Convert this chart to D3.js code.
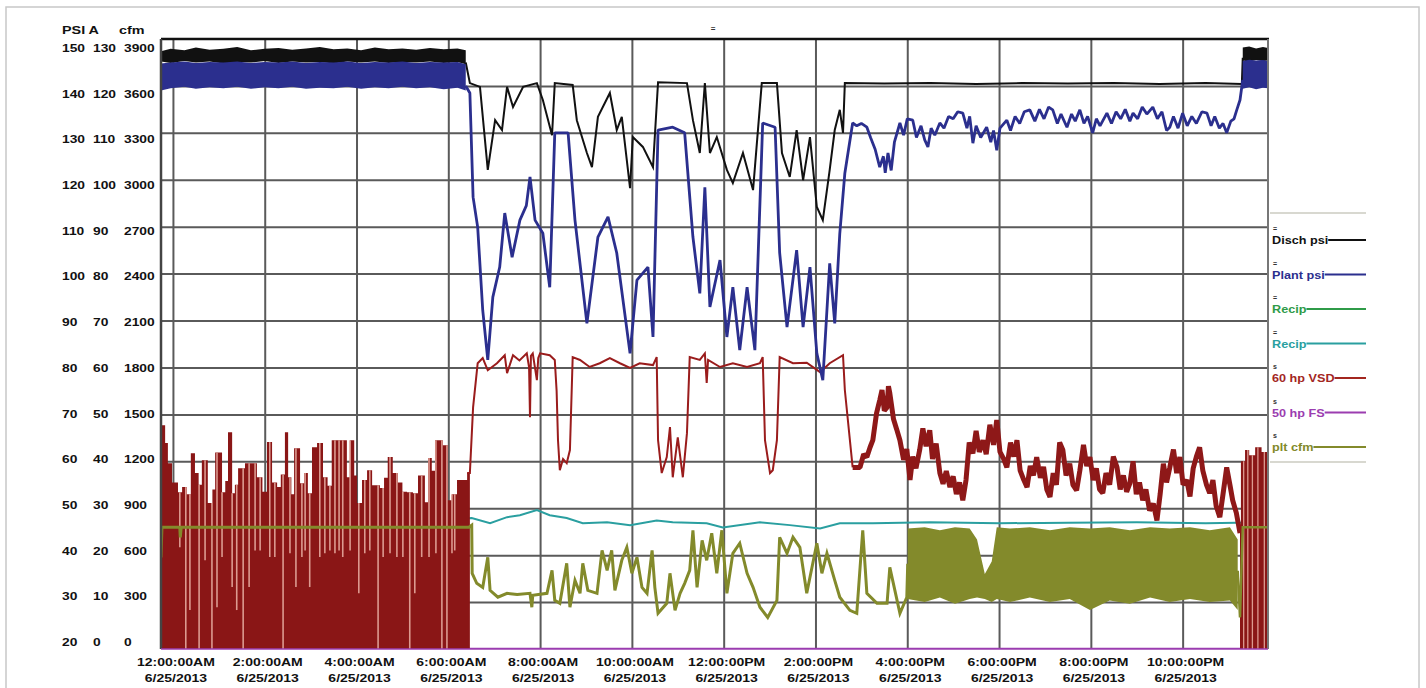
<!DOCTYPE html>
<html>
<head>
<meta charset="utf-8">
<script src="https://cdn.jsdelivr.net/npm/d3@7"></script>
<style>
body { margin: 0; background: #fff; }
text { font-family: "Liberation Sans", Arial, sans-serif; font-weight: bold; }
</style>
</head>
<body>
<svg id="chart" width="1426" height="688"></svg>
<script>
// ---- axis ticks / labels ----
let hourTicks = [0, 2, 4, 6, 8, 10, 12, 14, 16, 18, 20, 22];
let timeLabels = ["12:00:00AM","2:00:00AM","4:00:00AM","6:00:00AM","8:00:00AM","10:00:00AM",
  "12:00:00PM","2:00:00PM","4:00:00PM","6:00:00PM","8:00:00PM","10:00:00PM"];
let dateLabel = "6/25/2013";
let psiTicks = [150,140,130,120,110,100,90,80,70,60,50,40,30,20];
let ampTicks = [130,120,110,100,90,80,70,60,50,40,30,20,10,0];
let cfmTicks = [3900,3600,3300,3000,2700,2400,2100,1800,1500,1200,900,600,300,0];

// ---- legend ----
let seriesNames = ["Disch psi","Plant psi","Recip","Recip","60 hp VSD","50 hp FS","plt cfm"];
let seriesColors = ["#111111","#2b2f8e","#2f9b48","#2a9fa0","#a3261f","#9b3db0","#838a2b"];
let seriesMarks = ["=","=","=","=","s","s","s"];

// ---- Disch psi (psi) ----
let dischBandNight = [[-0.26,145.2,147.4],[-0.05,144.9,147.9],[0.25,145.3,147.6],[0.5,145.0,148.2],[0.8,145.2,147.7],
  [1.1,144.8,147.9],[1.4,145.1,148.3],[1.7,145.0,147.6],[2.0,145.3,147.9],[2.3,144.9,148.1],[2.6,145.2,147.7],
  [2.9,145.0,148.0],[3.2,145.1,148.3],[3.5,144.8,147.8],[3.8,145.2,148.0],[4.1,145.0,147.6],[4.4,145.2,148.2],
  [4.7,144.9,147.8],[5.0,145.1,148.0],[5.3,145.0,147.7],[5.6,145.2,148.1],[5.9,144.9,147.8],[6.2,145.1,148.0],[6.38,144.6,147.6]];
let dischBandLate = [[23.31,145.4,148.2],[23.45,145.2,148.4],[23.6,145.5,148.0],[23.75,145.3,148.3],[23.86,145.4,148.1]];
let dischLine = [[6.38,145.0],[6.47,140.6],[6.69,139.8],[6.86,122.1],[7.02,132.7],[7.17,130.6],[7.28,139.8],[7.41,135.5],
  [7.63,139.8],[7.93,140.6],[8.06,137.0],[8.26,129.5],[8.32,140.6],[8.71,140.2],[8.80,132.7],[9.02,125.7],[9.13,122.7],
  [9.26,133.4],[9.52,138.5],[9.67,130.6],[9.78,133.4],[9.96,118.2],[10.02,129.1],[10.24,127.0],[10.46,122.7],[10.57,140.8],
  [11.20,140.6],[11.33,132.7],[11.48,125.7],[11.59,140.6],[11.70,125.7],[11.85,129.1],[12.07,122.1],[12.20,119.3],
  [12.42,125.7],[12.64,117.8],[12.83,140.6],[13.16,140.6],[13.27,125.7],[13.44,120.6],[13.59,130.6],[13.73,119.9],
  [13.88,129.1],[14.03,114.2],[14.16,111.4],[14.31,122.1],[14.42,130.6],[14.53,134.9],[14.60,130.0],[14.64,140.6],
  [15.5,140.5],[16.5,140.6],[17.5,140.4],[18.5,140.6],[19.5,140.5],[20.5,140.6],[21.5,140.4],[22.5,140.6],[23.29,140.4],[23.31,146.0]];

// ---- Plant psi (psi) ----
let plantBandNight = [[-0.26,139.0,144.8],[-0.05,139.5,145.0],[0.25,139.8,145.2],[0.5,139.4,144.9],[0.8,139.7,145.1],
  [1.1,139.5,145.0],[1.4,139.8,145.2],[1.7,139.4,144.9],[2.0,139.7,145.1],[2.3,139.5,145.0],[2.6,139.8,145.2],
  [2.9,139.4,144.9],[3.2,139.6,145.1],[3.5,139.5,145.0],[3.8,139.8,145.2],[4.1,139.4,144.9],[4.4,139.7,145.1],
  [4.7,139.5,145.0],[5.0,139.8,145.2],[5.3,139.5,144.9],[5.6,139.7,145.1],[5.9,139.3,145.0],[6.2,139.6,145.1],[6.38,139.0,144.6]];
let plantBandLate = [[23.31,139.4,145.3],[23.45,139.7,145.6],[23.6,139.3,145.4],[23.75,139.6,145.5],[23.86,139.5,145.3]];
let plantLine = [[6.38,140.0],[6.47,138.5],[6.54,116.3],[6.64,109.9],[6.75,92.2],[6.86,81.6],[6.97,95.0],[7.12,101.4],
  [7.23,112.9],[7.39,103.5],[7.56,111.4],[7.70,114.5],[7.78,120.6],[7.89,111.4],[8.06,108.6],[8.21,97.1],[8.32,130.0],
  [8.61,130.0],[8.76,111.4],[9.02,89.4],[9.26,107.8],[9.48,112.1],[9.67,104.4],[9.96,83.0],[10.11,98.6],[10.35,101.4],
  [10.46,86.5],[10.57,130.6],[10.89,131.2],[11.15,130.0],[11.33,107.8],[11.48,95.8],[11.59,118.4],[11.70,92.9],
  [11.92,102.9],[12.07,86.5],[12.20,97.1],[12.35,83.7],[12.51,97.1],[12.68,83.7],[12.85,132.1],[13.12,131.2],
  [13.22,104.4],[13.38,88.6],[13.59,105.0],[13.73,88.6],[13.88,101.4],[14.03,83.0],[14.16,77.3],[14.31,102.2],
  [14.42,89.4],[14.53,108.6],[14.64,121.4],[14.81,132.1],[14.9,131.5],[15.0,132.0],[15.12,131.2],[15.2,129.0],
  [15.3,126.5],[15.40,122.7],[15.48,125.0],[15.52,121.5],[15.58,125.7],[15.65,122.0],[15.72,128.0],[15.84,132.1],
  [15.92,129.5],[16.0,133.0],[16.12,132.7],[16.2,129.0],[16.3,131.5],[16.38,128.5],[16.45,127.0],[16.52,131.0],
  [16.6,129.5],[16.71,132.1],[16.8,131.0],[16.9,133.5],[17.0,133.0],[17.1,134.5],[17.21,134.2],[17.3,131.0],
  [17.36,133.5],[17.43,127.8],[17.5,131.5],[17.6,129.0],[17.73,131.2],[17.82,128.0],[17.88,130.5],[17.95,126.3],
  [18.02,131.0],[18.17,132.7],[18.25,130.5],[18.35,133.5],[18.45,132.0],[18.55,134.5],[18.67,134.9],[18.78,132.5],
  [18.88,135.0],[18.98,133.0],[19.08,135.5],[19.17,134.9],[19.27,132.0],[19.35,134.0],[19.48,131.2],[19.58,134.0],
  [19.66,132.5],[19.76,134.9],[19.85,132.0],[19.93,133.5],[20.04,130.0],[20.12,133.0],[20.2,131.5],[20.35,134.2],
  [20.45,132.0],[20.55,134.5],[20.65,133.0],[20.75,135.0],[20.85,132.5],[20.92,134.2],[21.02,133.0],[21.12,135.5],
  [21.22,134.0],[21.35,135.5],[21.45,133.0],[21.55,134.5],[21.65,130.5],[21.72,131.2],[21.8,133.5],[21.9,131.0],
  [22.0,134.2],[22.1,131.5],[22.2,133.5],[22.3,132.0],[22.42,134.5],[22.53,134.2],[22.62,131.5],[22.7,133.5],
  [22.8,131.0],[22.88,132.0],[22.96,130.0],[23.05,132.5],[23.12,133.0],[23.18,134.9],[23.25,137.0],[23.31,141.3]];

// ---- Recip (teal, amps) ----
let recipTeal = [[-0.26,27.6],[1.0,27.8],[2.0,27.6],[3.0,27.9],[4.0,27.7],[5.0,27.8],[6.0,27.6],[6.51,27.9],[6.91,26.8],
  [7.28,28.1],[7.56,28.5],[7.93,29.6],[8.21,28.5],[8.58,27.9],[8.93,26.8],[9.46,27.0],[9.96,26.4],[10.54,27.4],
  [10.89,27.0],[11.63,26.8],[11.98,25.9],[12.79,27.0],[13.44,26.4],[14.10,25.7],[14.53,26.8],[15.25,26.8],[16.5,27.0],
  [18.0,26.8],[19.5,26.9],[21.0,27.0],[22.5,26.8],[23.86,27.0]];
// ---- Recip (green) and 50 hp FS, both off ----
let recipGreen = [[-0.26,0],[23.86,0]];
let fs50 = [[-0.26,0],[23.86,0]];

// ---- 60 hp VSD (amps) ----
let vsdNight = [[-0.26,47.7],[-0.2,47.7],[-0.17,43.9],[-0.11,39.6],[-0.02,35.5],[0.11,33.4],[0.20,34.5],[0.30,33.0],
  [0.39,41.7],[0.48,37.5],[0.56,35.0],[0.63,40.2],[0.76,31.1],[0.86,34.0],[0.92,41.9],[1.07,33.4],[1.14,35.8],
  [1.20,46.2],[1.29,33.2],[1.35,35.0],[1.42,38.5],[1.57,39.6],[1.72,39.6],[1.83,36.6],[1.95,33.5],[2.05,44.1],
  [2.16,35.5],[2.27,34.5],[2.35,37.2],[2.44,46.2],[2.51,36.6],[2.58,33.0],[2.64,42.8],[2.77,35.3],[2.86,37.5],
  [2.94,33.2],[3.03,43.0],[3.14,43.9],[3.27,36.6],[3.37,34.8],[3.46,44.5],[3.79,36.6],[3.86,44.5],[3.95,37.0],
  [4.01,31.1],[4.12,36.0],[4.23,38.1],[4.34,34.9],[4.51,34.3],[4.60,36.5],[4.68,40.9],[4.79,37.5],[4.90,35.5],
  [5.00,33.5],[5.10,33.4],[5.23,33.2],[5.34,37.0],[5.49,31.3],[5.56,40.7],[5.64,38.0],[5.71,44.5],[5.88,43.4],
  [5.99,31.7],[6.08,33.0],[6.19,36.0],[6.41,37.5],[6.47,37.5]];
let vsdNightGaps = [[0.15,21.7],[0.28,0],[0.37,8.3],[0.57,0],[0.70,18.9],[0.85,0],[0.96,8.9],[1.07,19.6],[1.29,13.2],
  [1.39,8.3],[1.53,0],[1.66,13.2],[1.79,21.0],[1.90,21.0],[2.11,19.6],[2.22,19.6],[2.40,0],[2.55,20.4],[2.68,13.2],
  [2.81,19.6],[2.88,21.0],[2.98,13.2],[3.20,19.6],[3.31,20.4],[3.42,21.0],[3.53,20.4],[3.62,21.0],[3.70,19.6],
  [3.86,21.0],[4.05,11.9],[4.18,20.4],[4.29,21.0],[4.47,0],[4.58,19.6],[4.73,20.4],[4.88,19.6],[5.01,19.6],[5.16,0],
  [5.27,11.9],[5.42,19.6],[5.58,19.6],[5.73,20.4],[5.86,0],[5.97,0],[6.08,20.4],[6.14,21.0]];
let vsdDay = [[6.41,37.5],[6.47,37.5],[6.54,51.5],[6.64,60.9],[6.75,62.0],[6.86,59.4],[7.06,60.9],[7.23,62.6],[7.28,58.8],
  [7.41,62.6],[7.55,61.5],[7.71,63.0],[7.76,60.0],[7.78,49.4],[7.80,62.5],[7.84,63.0],[7.93,57.3],[7.96,62.0],[8.00,63.0],
  [8.21,62.6],[8.32,61.6],[8.36,55.0],[8.39,44.5],[8.43,38.1],[8.50,40.5],[8.58,39.6],[8.65,42.4],[8.71,62.2],[8.87,61.6],
  [9.08,60.1],[9.30,60.9],[9.52,62.0],[9.74,60.9],[9.96,59.9],[10.17,60.9],[10.46,60.5],[10.54,62.2],[10.57,44.5],
  [10.65,37.5],[10.76,40.9],[10.83,47.3],[10.89,36.6],[11.0,45.1],[11.11,36.6],[11.20,46.0],[11.26,62.2],[11.48,61.6],
  [11.59,63.0],[11.63,56.7],[11.66,61.6],[11.92,60.1],[12.20,60.9],[12.51,60.1],[12.79,60.9],[12.85,62.2],[12.90,44.5],
  [13.01,37.5],[13.07,38.1],[13.16,44.5],[13.22,62.2],[13.51,60.9],[13.81,61.0],[14.10,59.0],[14.31,60.9],[14.60,62.6],
  [14.64,55.2],[14.75,44.5],[14.81,38.7]];
let vsdEvening = [[14.81,38.7],[14.97,38.7],[15.05,41.5],[15.12,40.9],[15.19,43.0],[15.25,44.5],[15.33,50.2],[15.40,53.0],
  [15.45,55.2],[15.50,50.8],[15.56,51.5],[15.59,56.0],[15.62,54.5],[15.70,49.0],[15.77,46.8],[15.84,44.5],[15.92,40.3],
  [15.99,42.6],[16.06,36.0],[16.12,41.0],[16.19,38.5],[16.27,42.4],[16.34,47.0],[16.41,43.2],[16.49,46.6],[16.55,40.5],
  [16.63,43.8],[16.71,37.5],[16.78,35.2],[16.85,37.9],[16.93,34.5],[17.00,36.8],[17.07,33.0],[17.14,35.5],[17.21,31.7],
  [17.28,36.0],[17.35,44.0],[17.43,41.7],[17.50,46.5],[17.57,42.0],[17.65,44.5],[17.72,41.5],[17.80,47.8],[17.88,43.5],
  [17.95,48.8],[18.02,42.0],[18.10,40.5],[18.17,38.7],[18.25,44.0],[18.32,41.0],[18.39,44.5],[18.46,38.0],[18.54,36.0],
  [18.61,34.5],[18.68,39.0],[18.75,37.0],[18.82,40.9],[18.90,36.5],[18.97,38.8],[19.04,34.0],[19.11,32.4],[19.18,37.5],
  [19.25,35.0],[19.32,44.0],[19.39,42.4],[19.46,37.0],[19.54,39.5],[19.61,35.0],[19.69,33.8],[19.76,38.0],[19.84,43.5],
  [19.91,39.0],[19.98,40.9],[20.05,36.0],[20.12,38.5],[20.19,34.0],[20.26,33.2],[20.33,37.5],[20.41,35.0],[20.49,41.0],
  [20.57,38.7],[20.64,34.0],[20.71,37.0],[20.78,33.5],[20.85,35.3],[20.92,40.0],[20.99,33.0],[21.06,35.5],[21.13,31.7],
  [21.20,34.0],[21.28,29.5],[21.36,31.0],[21.44,27.4],[21.51,33.0],[21.58,39.5],[21.65,35.5],[21.72,38.7],[21.80,42.5],
  [21.87,37.5],[21.94,40.9],[22.01,35.0],[22.09,36.0],[22.16,32.5],[22.23,38.5],[22.30,41.0],[22.37,43.0],[22.44,38.0],
  [22.52,35.0],[22.59,33.2],[22.66,36.0],[22.73,30.5],[22.81,28.1],[22.88,33.0],[22.96,38.7],[23.03,35.0],[23.09,31.7],
  [23.17,29.0],[23.25,24.7]];
let vsdLate = [[23.25,24.7],[23.27,40.0],[23.36,42.4],[23.45,41.3],[23.58,43.0],[23.72,42.0],[23.86,41.9]];
let vsdLateGaps = [[23.33,0],[23.42,0],[23.52,0],[23.64,0],[23.78,0]];

// ---- plt cfm (cfm) ----
let cfmLine = [[-0.26,586],[-0.24,778],[0.15,778],[0.16,714],[0.18,778],[6.45,778],[6.51,791],[6.52,484],[6.62,420],
  [6.75,394],[6.86,586],[6.91,375],[7.08,331],[7.28,356],[7.5,348],[7.78,356],[7.82,267],[7.84,343],[8.15,356],
  [8.26,503],[8.32,311],[8.43,292],[8.58,548],[8.65,267],[8.76,439],[8.87,356],[8.93,548],[9.04,375],[9.24,356],
  [9.35,631],[9.46,503],[9.56,631],[9.63,375],[9.78,567],[9.89,650],[10.0,484],[10.11,586],[10.22,394],[10.33,356],
  [10.44,631],[10.50,394],[10.57,228],[10.76,292],[10.83,484],[10.94,247],[11.05,356],[11.15,420],[11.26,503],
  [11.33,759],[11.42,394],[11.53,695],[11.63,567],[11.74,740],[11.85,484],[11.96,759],[12.07,356],[12.20,612],
  [12.35,676],[12.51,484],[12.64,394],[12.79,267],[12.96,202],[13.16,311],[13.22,714],[13.38,612],[13.51,714],
  [13.66,650],[13.81,356],[14.03,676],[14.14,484],[14.25,612],[14.42,439],[14.53,331],[14.75,247],[14.90,228],
  [15.03,759],[15.12,356],[15.34,292],[15.56,292],[15.62,522],[15.84,228],[15.99,331],[16.01,545]];
let cfmBand = [[16.01,320,770],[16.38,300,778],[16.71,330,760],[17.04,290,778],[17.36,320,770],[17.52,330,700],
  [17.69,320,480],[17.84,300,560],[17.95,320,778],[18.24,300,770],[18.67,330,778],[19.11,300,760],[19.54,320,778],
  [19.98,250,770],[20.41,310,778],[20.85,290,760],[21.29,330,778],[21.72,300,770],[22.16,320,778],[22.59,300,760],
  [23.03,310,778],[23.2,250,700]];
let cfmLate = [[23.2,500],[23.25,202],[23.31,778],[23.86,778]];

// ---- scales ----
let plotLeft = 161, plotRight = 1268, plotTop = 39, plotBottom = 649;
let x = d3.scaleLinear().domain([-0.26, 23.86]).range([plotLeft, plotRight]);
let yPsi = d3.scaleLinear().domain([20, 150]).range([plotBottom, plotTop]);
let yAmp = d3.scaleLinear().domain([0, 130]).range([plotBottom, plotTop]);
let yCfm = d3.scaleLinear().domain([0, 3900]).range([plotBottom, plotTop]);
let yLabel = d3.scaleLinear().domain([20, 150]).range([642, 48]);

let svg = d3.select('#chart');

// outer frame
svg.append('rect').attr('x', 6).attr('y', 7).attr('width', 1413).attr('height', 700)
  .attr('fill', 'none').attr('stroke', '#c8c8c8').attr('stroke-width', 1.5);

// title mark
svg.append('text').attr('x', 713).attr('y', 31).attr('text-anchor', 'middle')
  .attr('font-size', 8).attr('fill', '#333').text('=');

// grid
let gridX = svg.append('g').attr('transform', `translate(0,${plotBottom})`)
  .call(d3.axisBottom(x).tickValues(hourTicks).tickSize(-(plotBottom - plotTop)).tickFormat(''));
gridX.select('.domain').remove();
gridX.selectAll('line').attr('stroke', '#5a5a5a').attr('stroke-width', 2);

let gridY = svg.append('g').attr('transform', `translate(${plotLeft},0)`)
  .call(d3.axisLeft(yPsi).tickValues(psiTicks.slice(1, -1)).tickSize(-(plotRight - plotLeft)).tickFormat(''));
gridY.select('.domain').remove();
gridY.selectAll('line').attr('stroke', '#5a5a5a').attr('stroke-width', 2);

// data layer
svg.append('clipPath').attr('id', 'clip').append('rect')
  .attr('x', plotLeft).attr('y', plotTop).attr('width', plotRight - plotLeft).attr('height', plotBottom - plotTop);
let plot = svg.append('g').attr('clip-path', 'url(#clip)');

let lineOf = function(yScale) {
  return d3.line().x(function(d){ return x(d[0]); }).y(function(d){ return yScale(d[1]); });
};
let bandOf = function(yScale) {
  return d3.area().x(function(d){ return x(d[0]); })
    .y0(function(d){ return yScale(d[1]); }).y1(function(d){ return yScale(d[2]); });
};
let columnsOf = d3.area().curve(d3.curveStepAfter)
  .x(function(d){ return x(d[0]); }).y0(yAmp(0)).y1(function(d){ return yAmp(d[1]); });

let drawGaps = function(gaps, env, w) {
  let bis = d3.bisector(function(d){ return d[0]; }).right;
  plot.append('g').selectAll('line').data(gaps).enter().append('line')
    .attr('x1', function(d){ return x(d[0]); }).attr('x2', function(d){ return x(d[0]); })
    .attr('y1', function(d){ return yAmp(env[Math.max(0, bis(env, d[0]) - 1)][1]); })
    .attr('y2', function(d){ return yAmp(d[1]); })
    .attr('stroke', '#dc9a90').attr('stroke-width', w);
};

plot.append('path').datum(recipGreen).attr('d', lineOf(yAmp)).attr('fill', 'none').attr('stroke', seriesColors[2]).attr('stroke-width', 2);
plot.append('path').datum(fs50).attr('d', lineOf(yAmp)).attr('fill', 'none').attr('stroke', seriesColors[5]).attr('stroke-width', 2.5);
plot.append('path').datum(recipTeal).attr('d', lineOf(yAmp)).attr('fill', 'none').attr('stroke', seriesColors[3]).attr('stroke-width', 2);

// VSD
plot.append('path').datum(vsdNight).attr('d', columnsOf).attr('fill', '#8a1616');
drawGaps(vsdNightGaps, vsdNight, 1.6);
plot.append('path').datum(vsdLate).attr('d', columnsOf).attr('fill', '#8a1616');
drawGaps(vsdLateGaps, vsdLate, 1.3);
plot.append('path').datum(vsdDay).attr('d', lineOf(yAmp)).attr('fill', 'none').attr('stroke', '#9a1c1c').attr('stroke-width', 2);
plot.append('path').datum(vsdEvening).attr('d', lineOf(yAmp)).attr('fill', 'none').attr('stroke', '#8e1818')
  .attr('stroke-width', 5).attr('stroke-linejoin', 'bevel');

// plt cfm
plot.append('path').datum(cfmBand).attr('d', bandOf(yCfm)).attr('fill', '#838a2b');
plot.append('path').datum(cfmLine).attr('d', lineOf(yCfm)).attr('fill', 'none').attr('stroke', '#838a2b').attr('stroke-width', 3);
plot.append('path').datum(cfmLate).attr('d', lineOf(yCfm)).attr('fill', 'none').attr('stroke', '#838a2b').attr('stroke-width', 2.5);

// Disch psi
plot.append('path').datum(dischLine).attr('d', lineOf(yPsi)).attr('fill', 'none').attr('stroke', '#111').attr('stroke-width', 2);
plot.append('path').datum(dischBandNight).attr('d', bandOf(yPsi)).attr('fill', '#111');
plot.append('path').datum(dischBandLate).attr('d', bandOf(yPsi)).attr('fill', '#111');

// Plant psi
plot.append('path').datum(plantLine).attr('d', lineOf(yPsi)).attr('fill', 'none').attr('stroke', '#2b2f8e')
  .attr('stroke-width', 2.8).attr('stroke-linejoin', 'bevel');
plot.append('path').datum(plantBandNight).attr('d', bandOf(yPsi)).attr('fill', '#2b2f8e');
plot.append('path').datum(plantBandLate).attr('d', bandOf(yPsi)).attr('fill', '#2b2f8e');

// plot borders
svg.append('line').attr('x1', plotLeft).attr('x2', plotRight + 1).attr('y1', plotTop).attr('y2', plotTop)
  .attr('stroke', '#111').attr('stroke-width', 2.5);
svg.append('line').attr('x1', plotLeft).attr('x2', plotLeft).attr('y1', plotTop).attr('y2', plotBottom)
  .attr('stroke', '#444').attr('stroke-width', 2.5);
svg.append('line').attr('x1', plotRight).attr('x2', plotRight).attr('y1', plotTop).attr('y2', plotBottom)
  .attr('stroke', '#777').attr('stroke-width', 2);
svg.append('line').attr('x1', plotLeft).attr('x2', plotRight).attr('y1', plotBottom).attr('y2', plotBottom)
  .attr('stroke', '#9b3db0').attr('stroke-width', 1.5);

// y labels (three columns)
let header = svg.append('g').attr('font-size', 11.5).attr('fill', '#111');
header.append('text').attr('transform', 'translate(62,34) scale(1.25,1)').text('PSI A');
header.append('text').attr('transform', 'translate(119,34) scale(1.25,1)').text('cfm');

let yCols = [[62, psiTicks], [93, ampTicks], [124, cfmTicks]];
yCols.forEach(function(col) {
  svg.append('g').attr('font-size', 11.5).attr('fill', '#111')
    .selectAll('text').data(col[1]).enter().append('text')
    .attr('transform', function(d, i){ return `translate(${col[0]},${yLabel(psiTicks[i]) + 4}) scale(1.2,1)`; })
    .text(function(d){ return d; });
});

// x labels
let xl = svg.append('g').attr('font-size', 11.5).attr('fill', '#111').attr('text-anchor', 'middle');
xl.selectAll('.t').data(hourTicks).enter().append('text')
  .attr('transform', function(d){ return `translate(${x(d) + 3},666) scale(1.22,1)`; })
  .text(function(d, i){ return timeLabels[i]; });
xl.selectAll('.d').data(hourTicks).enter().append('text')
  .attr('transform', function(d){ return `translate(${x(d) + 3},682) scale(1.22,1)`; })
  .text(dateLabel);

// legend
let legend = svg.append('g');
legend.append('rect').attr('x', 1270).attr('y', 212).attr('width', 96).attr('height', 251).attr('fill', '#fff');
legend.append('line').attr('x1', 1270).attr('x2', 1366).attr('y1', 213).attr('y2', 213).attr('stroke', '#d8d8d0').attr('stroke-width', 2);
legend.append('line').attr('x1', 1270).attr('x2', 1366).attr('y1', 462).attr('y2', 462).attr('stroke', '#d8d8d0').attr('stroke-width', 2);
seriesNames.forEach(function(name, i) {
  let yb = 244 + i * 34.5;
  legend.append('text').attr('x', 1273).attr('y', yb - 13).attr('font-size', 7).attr('font-weight', 'normal')
    .attr('fill', '#333').text(seriesMarks[i]);
  let t = legend.append('text').attr('transform', `translate(1272,${yb}) scale(1.1,1)`)
    .attr('font-size', 11.5).attr('fill', seriesColors[i]).text(name);
  let w = t.node().getComputedTextLength() * 1.1;
  legend.append('line').attr('x1', 1272 + w).attr('x2', 1366).attr('y1', yb - 4).attr('y2', yb - 4)
    .attr('stroke', seriesColors[i]).attr('stroke-width', 2);
});
</script>
</body>
</html>
